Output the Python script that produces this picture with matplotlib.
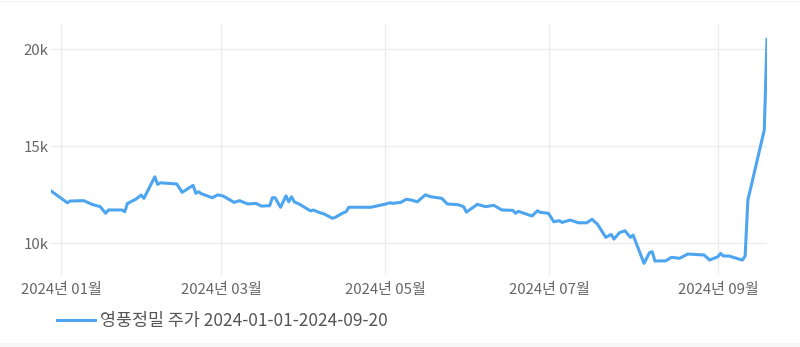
import matplotlib
matplotlib.use("Agg")
import matplotlib.pyplot as plt
from matplotlib.patches import Rectangle
import pandas as pd

plt.rcParams['font.family'] = ['Noto Sans CJK KR', 'DejaVu Sans']

# day offsets from 2024-01-01
days = [1, 7, 8, 13, 16, 19, 21, 22, 27, 28, 29, 32, 34, 35, 39, 40, 41, 47, 49, 53,
        54, 55, 56, 60, 62, 64, 68, 70, 73, 76, 78, 81, 82, 83, 85, 87, 88, 89, 90, 92,
        96, 97, 99, 101, 104, 105, 108, 109, 110, 118, 123, 125, 126, 129, 131, 133, 135, 138, 140, 144,
        146, 150, 152, 153, 157, 160, 163, 166, 170, 171, 172, 177, 179, 180, 183, 185, 187, 188, 191, 194,
        197, 199, 201, 204, 206, 207, 209, 211, 213, 214, 218, 220, 221, 222, 226, 228, 231, 234, 240, 242,
        245, 246, 247, 249, 254, 255, 256, 262, 263]
price = [12700, 12090, 12180, 12200, 12010, 11890, 11550, 11720, 11720, 11630, 12060, 12270, 12490, 12320, 13430, 13040, 13120, 13060, 12630, 12990,
         12580, 12660, 12560, 12350, 12500, 12440, 12110, 12200, 12030, 12060, 11920, 11940, 12350, 12350, 11860, 12450, 12140, 12400, 12140, 12010,
         11670, 11720, 11600, 11510, 11290, 11340, 11580, 11630, 11860, 11860, 12010, 12090, 12060, 12110, 12270, 12230, 12140, 12500, 12400, 12320,
         12030, 11990, 11890, 11610, 12010, 11890, 11960, 11720, 11700, 11550, 11650, 11410, 11680, 11600, 11550, 11110, 11170, 11080, 11200, 11060,
         11060, 11240, 10980, 10310, 10460, 10220, 10550, 10650, 10310, 10430, 8970, 9520, 9570, 9090, 9100, 9280, 9230, 9450, 9400, 9140,
         9310, 9480, 9350, 9350, 9140, 9350, 12230, 15840, 20520]

tick_days = [4.7, 63.2, 123.2, 183.2, 245.1]
tick_labels = ['2024년 01월', '2024년 03월', '2024년 05월', '2024년 07월', '2024년 09월']
y_ticks = [10000, 15000, 20000]
y_tick_labels = ['10k', '15k', '20k']
series_name = '영풍정밀 주가 2024-01-01-2024-09-20'

base = pd.Timestamp('2024-01-01')
dates = [base + pd.Timedelta(days=d) for d in days]
tick_dates = [base + pd.Timedelta(days=d) for d in tick_days]

fig = plt.figure(figsize=(8.0, 3.47), dpi=100)
fig.add_artist(Rectangle((0, 0), 1, 4 / 347, transform=fig.transFigure,
                         facecolor='#f6f6f6', edgecolor='none', zorder=0))
fig.add_artist(Rectangle((0, 1 - 2 / 347), 1, 1 / 347, transform=fig.transFigure,
                         facecolor='#f2f2f2', edgecolor='none', zorder=0))
ax = fig.add_axes([51 / 800, 72 / 347, 716 / 800, 250 / 347])

line_color = '#4ea5ef'
ln, = ax.plot(dates, price, color=line_color, lw=2.2, solid_joinstyle='round', label=series_name)

ax.set_xlim(dates[0], dates[-1])
ax.set_ylim(8370, 21250)
ax.set_xticks(tick_dates)
ax.set_xticklabels(tick_labels)
ax.set_yticks(y_ticks)
ax.set_yticklabels(y_tick_labels)

for s in ax.spines.values():
    s.set_visible(False)
ax.grid(True, color='#ececec', lw=1)
ax.set_axisbelow(True)
ax.tick_params(axis='x', length=0, pad=6, labelsize=10.8, labelcolor='#666666')
ax.tick_params(axis='y', length=0, pad=2, labelsize=10.8, labelcolor='#666666')

leg = fig.legend(handles=[ln], loc='center left', bbox_to_anchor=(57 / 800, 1 - 321 / 347),
                 frameon=False, fontsize=12.5, handlelength=2.2, handletextpad=0.3,
                 borderpad=0, borderaxespad=0)
for t in leg.get_texts():
    t.set_color('#555555')

fig.savefig('out.png', dpi=100, facecolor='white')
